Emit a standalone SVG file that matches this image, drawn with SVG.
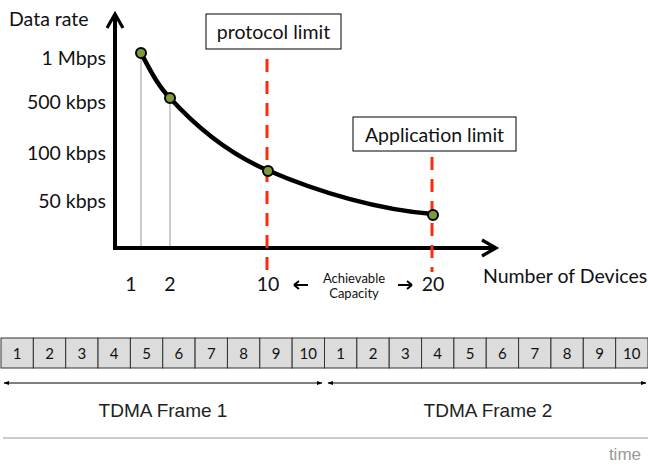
<svg xmlns="http://www.w3.org/2000/svg" width="648" height="466" viewBox="0 0 648 466">
<defs>
<marker id="ah" viewBox="0 0 10 10" refX="8" refY="5" markerWidth="5" markerHeight="5" orient="auto" markerUnits="strokeWidth"><path d="M1,1 L8,5 L1,9" fill="none" stroke="#000" stroke-width="1.6"/></marker>
<marker id="sm" viewBox="0 0 10 10" refX="9" refY="5" markerWidth="6" markerHeight="6" orient="auto-start-reverse"><path d="M0,1.5 L10,5 L0,8.5 z" fill="#000"/></marker>
</defs>
<style>
.lbl{font-family:Lato,"Open Sans","Liberation Sans",sans-serif;font-size:19.5px;fill:#111}
.sm{font-family:Lato,"Open Sans","Liberation Sans",sans-serif;font-size:13px;fill:#111}
.cell rect{fill:#dcdcdc;stroke:#333;stroke-width:1}
.cell text{font-family:Lato,"Liberation Sans",sans-serif;font-size:15px;fill:#111;text-anchor:middle}
.tdma{font-family:"Liberation Sans",Arial,sans-serif;font-size:19px;fill:#222}
.red{stroke:#ff2a0a;stroke-width:3;stroke-dasharray:13,9;fill:none}
.pt{fill:#7e9b3c;stroke:#000;stroke-width:2}
.box{fill:#fff;stroke:#000;stroke-width:1}
</style>
<g id="connectors">
<line x1="141" y1="53" x2="141" y2="248" stroke="#999" stroke-width="1"/>
<line x1="170" y1="98" x2="170" y2="248" stroke="#999" stroke-width="1"/>
<line x1="115" y1="249" x2="115" y2="14" stroke="#000" stroke-width="4" marker-end="url(#ah)"/>
<line x1="113" y1="248" x2="496" y2="248" stroke="#000" stroke-width="4" marker-end="url(#ah)"/>
<line class="red" x1="267" y1="59" x2="267" y2="272"/>
<line class="red" x1="432" y1="157" x2="432" y2="272"/>
<path d="M141,53 C150,70 158,86 170,98 C200,131 232,155 267,170 C320,193 380,210 433,214" fill="none" stroke="#000" stroke-width="4.5"/>
<line x1="4" y1="383" x2="322" y2="383" stroke="#000" stroke-width="1" marker-start="url(#sm)" marker-end="url(#sm)"/>
<line x1="328" y1="383" x2="646" y2="383" stroke="#000" stroke-width="1" marker-start="url(#sm)" marker-end="url(#sm)"/>
<line x1="3" y1="438" x2="648" y2="438" stroke="#999" stroke-width="1"/>
<path d="M294,285 H308 M294,285 l5,-4 M294,285 l5,4" stroke="#000" stroke-width="2" fill="none"/>
<path d="M398,285 H412 M412,285 l-5,-4 M412,285 l-5,4" stroke="#000" stroke-width="2" fill="none"/>
</g>
<g id="points">
<circle class="pt" cx="141" cy="53" r="5"/>
<circle class="pt" cx="170" cy="98" r="5"/>
<circle class="pt" cx="268" cy="171" r="5"/>
<circle class="pt" cx="433" cy="215" r="5"/>
</g>
<g id="protocol-limit"><rect class="box" x="206" y="14" width="135" height="35"/><text class="lbl" x="273.5" y="39" text-anchor="middle">protocol limit</text></g>
<g id="application-limit"><rect class="box" x="353" y="117" width="163" height="34"/><text class="lbl" x="434.5" y="142" text-anchor="middle">Application limit</text></g>
<g id="axis-labels">
<text class="lbl" x="9" y="26">Data rate</text>
<text class="lbl" x="106" y="65" text-anchor="end">1 Mbps</text>
<text class="lbl" x="106" y="109" text-anchor="end">500 kbps</text>
<text class="lbl" x="106" y="160" text-anchor="end">100 kbps</text>
<text class="lbl" x="106" y="208" text-anchor="end">50 kbps</text>
<text class="lbl" x="131" y="291" text-anchor="middle">1</text>
<text class="lbl" x="170" y="291" text-anchor="middle">2</text>
<text class="lbl" x="268" y="291" text-anchor="middle">10</text>
<text class="lbl" x="433" y="291" text-anchor="middle">20</text>
<text class="lbl" x="483" y="283">Number of Devices</text>
<text class="sm" x="354" y="283" text-anchor="middle">Achievable</text>
<text class="sm" x="354" y="298" text-anchor="middle">Capacity</text>
</g>
<g id="frame1" class="cell">
<rect x="1" y="338" width="32.35" height="30"/><text x="17.2" y="358.5">1</text>
<rect x="33.35" y="338" width="32.35" height="30"/><text x="49.5" y="358.5">2</text>
<rect x="65.7" y="338" width="32.35" height="30"/><text x="81.9" y="358.5">3</text>
<rect x="98.05" y="338" width="32.35" height="30"/><text x="114.2" y="358.5">4</text>
<rect x="130.4" y="338" width="32.35" height="30"/><text x="146.6" y="358.5">5</text>
<rect x="162.75" y="338" width="32.35" height="30"/><text x="178.9" y="358.5">6</text>
<rect x="195.1" y="338" width="32.35" height="30"/><text x="211.3" y="358.5">7</text>
<rect x="227.45" y="338" width="32.35" height="30"/><text x="243.6" y="358.5">8</text>
<rect x="259.8" y="338" width="32.35" height="30"/><text x="276" y="358.5">9</text>
<rect x="292.15" y="338" width="32.35" height="30"/><text x="308.3" y="358.5">10</text>
</g>
<g id="frame2" class="cell">
<rect x="324.5" y="338" width="32.35" height="30"/><text x="340.7" y="358.5">1</text>
<rect x="356.85" y="338" width="32.35" height="30"/><text x="373" y="358.5">2</text>
<rect x="389.2" y="338" width="32.35" height="30"/><text x="405.4" y="358.5">3</text>
<rect x="421.55" y="338" width="32.35" height="30"/><text x="437.7" y="358.5">4</text>
<rect x="453.9" y="338" width="32.35" height="30"/><text x="470.1" y="358.5">5</text>
<rect x="486.25" y="338" width="32.35" height="30"/><text x="502.4" y="358.5">6</text>
<rect x="518.6" y="338" width="32.35" height="30"/><text x="534.8" y="358.5">7</text>
<rect x="550.95" y="338" width="32.35" height="30"/><text x="567.1" y="358.5">8</text>
<rect x="583.3" y="338" width="32.35" height="30"/><text x="599.5" y="358.5">9</text>
<rect x="615.65" y="338" width="32.35" height="30"/><text x="631.8" y="358.5">10</text>
</g>
<g id="labels-tdma">
<text class="tdma" x="163" y="417" text-anchor="middle">TDMA Frame  1</text>
<text class="tdma" x="488" y="417" text-anchor="middle">TDMA Frame 2</text>
<text x="641" y="460" text-anchor="end" style="font-family:'Liberation Sans',Arial,sans-serif;font-size:17px;fill:#999">time</text>
</g>
</svg>
